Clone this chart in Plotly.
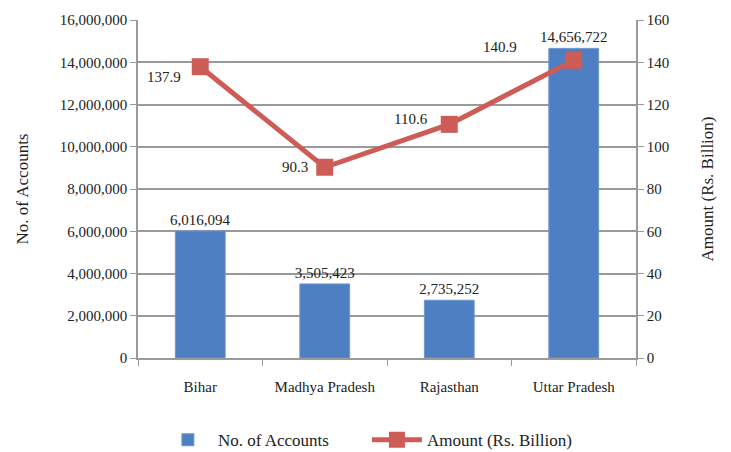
import plotly.graph_objects as go

states = ["Bihar", "Madhya Pradesh", "Rajasthan", "Uttar Pradesh"]
accounts = [6016094, 3505423, 2735252, 14656722]
amount = [137.9, 90.3, 110.6, 140.9]
left_ticks = [0, 2000000, 4000000, 6000000, 8000000, 10000000, 12000000, 14000000, 16000000]
right_ticks = [0, 20, 40, 60, 80, 100, 120, 140, 160]
# label offsets (pixels) for the amount labels
label_dx = [-36, -30, -38, -74]
label_dy = [-10, 0, 5, 13]

FONT = "Liberation Serif"
GRID = "#9a9a9a"
TXT = "#222222"

fig = go.Figure()
fig.add_trace(go.Bar(
    x=states, y=accounts, name="No. of Accounts",
    marker=dict(color="#4F7FC3", line=dict(color="#6E95CF", width=1)),
    width=0.4,
    text=[f"{v:,}" for v in accounts], textposition="outside",
    constraintext="none",
    textfont=dict(family=FONT, size=15, color=TXT),
    cliponaxis=False,
))
fig.add_trace(go.Scatter(
    x=states, y=amount, name="Amount (Rs. Billion)", yaxis="y2",
    mode="lines+markers",
    line=dict(color="#CD5C57", width=5),
    marker=dict(symbol="square", size=17, color="#CD5C57"),
    cliponaxis=False,
))

for s, v, dx, dy in zip(states, amount, label_dx, label_dy):
    fig.add_annotation(x=s, y=v, xref="x", yref="y2", text=f"{v:.1f}",
                       showarrow=False, xshift=dx, yshift=dy,
                       font=dict(family=FONT, size=15, color=TXT))

# page body has an 8px margin, so the figure is drawn 8px in from the top-left
fig.update_layout(
    width=723, height=444,
    margin=dict(l=130, r=95, t=12, b=94, autoexpand=False),
    paper_bgcolor="white", plot_bgcolor="white",
    font=dict(family=FONT, size=15, color=TXT),
    bargap=0.6,
    showlegend=True,
    legend=dict(orientation="h", x=0.04, xanchor="left", y=-0.19, yanchor="top",
                font=dict(family=FONT, size=17, color=TXT),
                itemwidth=50, entrywidth=144, entrywidthmode="pixels", tracegroupgap=0),
    xaxis=dict(
        showgrid=False, showline=True, linecolor=GRID, linewidth=1.5,
        ticks="outside", tickson="boundaries", ticklen=6, tickcolor=GRID,
        tickfont=dict(family=FONT, size=15, color=TXT), ticklabelstandoff=14,
        automargin=False,
    ),
    yaxis=dict(
        title=dict(text="No. of Accounts", font=dict(family=FONT, size=17, color=TXT), standoff=27),
        range=[0, 16000000], tickvals=left_ticks,
        ticktext=[f"{v:,}" for v in left_ticks],
        showgrid=True, gridcolor=GRID, gridwidth=1.5,
        showline=True, linecolor=GRID, linewidth=1.5,
        ticks="outside", ticklen=6, tickcolor=GRID,
        tickfont=dict(family=FONT, size=15, color=TXT), zeroline=False,
        automargin=False,
    ),
    yaxis2=dict(
        title=dict(text="Amount (Rs. Billion)", font=dict(family=FONT, size=17, color=TXT), standoff=33),
        overlaying="y", side="right",
        range=[0, 160], tickvals=right_ticks,
        showgrid=False, showline=True, linecolor=GRID, linewidth=1.5,
        ticks="outside", ticklen=6, tickcolor=GRID,
        tickfont=dict(family=FONT, size=15, color=TXT), zeroline=False,
        automargin=False,
    ),
)

fig.write_html("out.html")
